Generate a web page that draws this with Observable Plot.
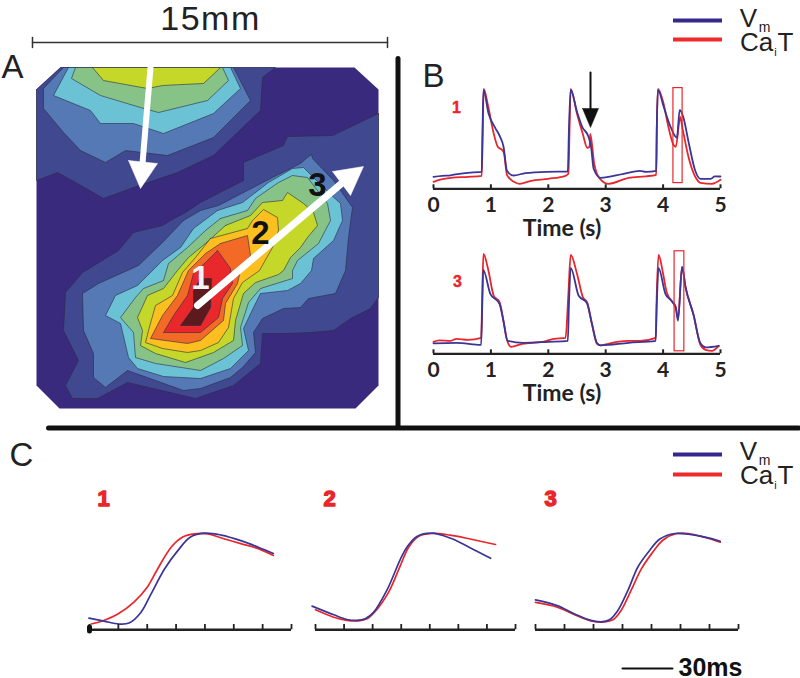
<!DOCTYPE html>
<html><head><meta charset="utf-8">
<script src="https://cdn.jsdelivr.net/npm/d3@7"></script>
<script src="https://cdn.jsdelivr.net/npm/@observablehq/plot@0.6"></script>
<style>
html,body{margin:0;background:#fff}
#fig{position:relative;width:800px;height:678px;overflow:hidden}
#fig svg{position:absolute;max-width:none;background:transparent}
.spaced text{letter-spacing:1.5px}
</style></head><body><div id="fig"></div>
<script>
// ---- Panel A: isochrone contours, map coordinates
const level0  = [[36,89],[60,67],[354,67],[378,89],[378,385],[355,408],[59,408],[36,385]];
const level1a = [[36,89],[60,67],[275,67],[262,77],[260,110],[213,155],[177,172],[133,187],[103,198],[77,183],[57,172],[36,180]];
const level2a = [[63,67],[233,67],[250,100],[213,137],[167,155],[125,150],[105,162],[80,150],[63,132],[43,108],[43,88]];
const level3a = [[68,67],[53,95],[90,110],[100,123],[133,123],[163,133],[213,113],[240,88],[230,67]];
const level4a = [[75,67],[71,78],[100,95],[140,107],[158,112],[207,100],[228,80],[222,67]];
const level5a = [[92,67],[103,80],[147,88],[162,85],[203,83],[220,67]];
const level1b = [[378,113],[332,135],[287,136],[283,145],[243,162],[243,180],[200,202],[185,212],[170,220],[162,225],[133,232],[118,250],[82,272],[65,292],[63,330],[78,360],[65,385],[72,398],[97,398],[127,382],[195,398],[233,385],[260,363],[262,333],[283,333],[310,332],[333,330],[350,318],[370,308],[378,297]];
const level2b = [[183,220],[200,210],[218,205],[247,190],[272,177],[300,163],[307,157],[311,154],[312,158],[333,180],[352,207],[348,237],[345,270],[335,293],[308,298],[300,307],[283,308],[262,318],[253,332],[255,352],[242,367],[230,377],[200,388],[183,390],[155,380],[127,370],[105,387],[93,377],[93,353],[83,330],[82,293],[98,283],[138,265],[162,242]];
const level3b = [[217,210],[242,202],[268,182],[292,168],[303,167],[328,192],[340,203],[342,220],[333,240],[313,258],[311,270],[300,283],[287,290],[260,293],[253,307],[243,328],[248,350],[230,368],[200,378],[163,376],[137,368],[128,357],[120,323],[105,315],[115,295],[137,285],[162,260],[180,247],[193,228]];
const level4b = [[220,218],[247,210],[255,198],[278,182],[292,175],[307,177],[327,203],[330,220],[318,243],[297,260],[292,270],[292,278],[260,288],[248,302],[240,327],[242,345],[223,358],[200,370],[155,363],[135,357],[133,332],[120,317],[135,297],[143,288],[163,280],[168,263],[187,247],[205,230]];
const level5b = [[225,225],[250,215],[262,202],[282,200],[287,192],[303,203],[313,212],[317,225],[307,237],[300,247],[290,257],[283,270],[278,274],[255,282],[243,293],[235,320],[233,340],[213,352],[185,362],[155,353],[140,345],[142,330],[137,317],[147,295],[163,288],[177,270],[188,257],[205,243]];
const level6b = [[210,238],[247,228],[252,220],[263,209],[277,217],[278,230],[272,247],[259,270],[242,282],[233,298],[228,327],[218,342],[200,350],[187,352],[162,348],[145,342],[148,330],[155,305],[172,295],[182,272],[195,257]];
const level7b = [[220,243],[247,235],[250,255],[240,270],[237,283],[225,303],[223,320],[200,340],[187,343],[150,338],[162,315],[177,295],[188,270],[205,253]];
const level8b = [[217,250],[230,268],[232,283],[222,298],[218,317],[200,332],[163,332],[173,315],[187,295],[193,273],[205,262]];
const level9b = [[200,278],[211,278],[210,307],[200,325],[180,325],[193,307],[193,290]];
const contourShapes = [level0,level1a,level2a,level3a,level4a,level5a,level1b,level2b,level3b,level4b,level5b,level6b,level7b,level8b,level9b];
const contourColors = ["#3a2a7e","#40488f","#5479b5","#6cc2d5","#87c286","#c5d82a","#fbbf20","#f26a26","#e8282b","#5c1a1e"];
const contourLevels = [0,1,2,3,4,5,1,2,3,4,5,6,7,8,9];

// ---- Panel B: optical traces, [time (s), normalised signal]
const b1Vm = [[0,.12],[.15,.13],[.3,.135],[.45,.15],[.6,.16],[.84,.17],[.855,.6],[.87,.99],[.96,.75],[1.075,.61],[1.16,.52],[1.22,.42],[1.28,.18],[1.395,.133],[1.6,.157],[1.98,.17],[2.34,.173],[2.36,.6],[2.39,.99],[2.5,.77],[2.59,.62],[2.7,.52],[2.745,.42],[2.79,.2],[2.91,.11],[3.31,.15],[3.6,.18],[3.7,.17],[3.88,.18],[3.89,.6],[3.91,.99],[4.01,.82],[4.13,.62],[4.24,.51],[4.29,.79],[4.35,.72],[4.45,.45],[4.56,.18],[4.65,.1],[4.83,.1],[4.9,.125],[5,.123]];
const b1Ca = [[0,.07],[.1,.09],[.3,.11],[.6,.12],[.84,.13],[.855,.5],[.875,1],[.95,.83],[1.05,.55],[1.12,.42],[1.2,.385],[1.23,.35],[1.28,.14],[1.4,.07],[1.5,.05],[1.7,.08],[2,.1],[2.3,.13],[2.35,.15],[2.37,.6],[2.39,1],[2.5,.75],[2.6,.55],[2.68,.41],[2.72,.42],[2.73,.55],[2.76,.45],[2.8,.25],[2.9,.1],[3.05,.05],[3.4,.11],[3.7,.125],[3.88,.14],[3.89,.6],[3.91,1],[4,.87],[4.1,.6],[4.18,.44],[4.22,.42],[4.3,.72],[4.33,.63],[4.45,.3],[4.58,.1],[4.65,.06],[4.85,.05],[5,.09]];
const b3Vm = [[0,.105],[.4,.11],[.83,.09],[.85,.5],[.866,.84],[.99,.6],[1.15,.5],[1.22,.32],[1.29,.13],[1.57,.11],[2,.12],[2.34,.13],[2.36,.5],[2.39,.86],[2.53,.58],[2.67,.51],[2.76,.3],[2.85,.105],[2.91,.085],[3.4,.11],[3.87,.13],[3.89,.5],[3.92,.86],[4.04,.6],[4.16,.52],[4.22,.46],[4.26,.33],[4.33,.87],[4.39,.67],[4.53,.39],[4.65,.105],[4.74,.065],[4.97,.08]];
const b3Ca = [[0,.12],[.1,.135],[.3,.13],[.4,.15],[.6,.14],[.83,.16],[.85,.6],[.87,1],[.95,.85],[1.05,.58],[1.15,.52],[1.22,.33],[1.28,.14],[1.35,.07],[1.55,.1],[1.9,.12],[2.1,.15],[2.3,.16],[2.35,.6],[2.39,.99],[2.5,.8],[2.6,.57],[2.68,.51],[2.76,.3],[2.85,.1],[2.91,.085],[3.2,.12],[3.4,.13],[3.6,.13],[3.87,.16],[3.89,.6],[3.92,.99],[4,.8],[4.06,.62],[4.16,.52],[4.22,.47],[4.26,.35],[4.33,.87],[4.39,.67],[4.53,.39],[4.65,.09],[4.74,.04],[4.85,.03],[4.97,.08]];
const b1Window = {t1:4.18,t2:4.34,v1:.057,v2:1.007};
const b3Window = {t1:4.2,t2:4.37,v1:.025,v2:1.025};
const bTicks = [0,1,2,3,4,5];

// ---- Panel C: upstroke detail, [tick index, normalised signal]
const c1Vm = [[-.02,.12],[.5,.09],[1.02,.06],[1.37,.07],[1.78,.18],[2.13,.37],[2.6,.63],[3.06,.82],[3.5,.96],[3.99,1],[4.57,.98],[5.27,.92],[5.85,.855],[6.37,.79]];
const c1Ca = [[.06,.06],[.5,.097],[.97,.16],[1.55,.29],[2,.44],[2.36,.63],[2.83,.855],[3.23,.96],[3.64,.993],[4.1,.993],[4.57,.95],[5.27,.89],[5.85,.84],[6.37,.77]];
const c2Vm = [[-.12,.245],[.64,.155],[1.1,.107],[1.45,.097],[1.74,.114],[2.03,.18],[2.5,.41],[2.97,.73],[3.2,.855],[3.55,.966],[4.07,1],[4.71,.95],[5.41,.85],[6.13,.74]];
const c2Ca = [[0,.207],[.64,.13],[1.1,.097],[1.51,.093],[1.8,.114],[2.09,.19],[2.56,.39],[2.97,.665],[3.26,.855],[3.6,.966],[4.07,.997],[4.71,.98],[5.41,.94],[6.3,.883]];
const c3Vm = [[0,.31],[.75,.25],[1.33,.166],[1.91,.097],[2.26,.083],[2.55,.103],[2.84,.2],[3.19,.41],[3.53,.65],[3.88,.8],[4.29,.94],[4.81,.997],[5.27,.99],[5.85,.96],[6.37,.917]];
const c3Ca = [[0,.283],[.75,.234],[1.33,.159],[1.91,.093],[2.32,.08],[2.67,.103],[2.95,.2],[3.3,.41],[3.65,.63],[4,.786],[4.4,.93],[4.87,.997],[5.27,.997],[5.85,.955],[6.37,.907]];
const cTicks = [0,1,2,3,4,5,6,7];

// ---- Annotations
const arrowDownShaft = [[150,67],[142,163]];
const arrowDownHead  = [[128,160],[157,163],[140,188]];
const arrowUpShaft   = [[197,305],[341,183]];
const arrowUpHead    = [[332,171],[363,166],[350,195]];
const blackShaft = [[590,72],[590,110]];
const blackHead  = [[582,108],[598,108],[590,127]];
const separators = [[[397.5,58],[397.5,427]],[[48,427.5],[798,427.5]]];
const scaleBar = [[32,42],[387,42]];
const scaleCaps = [[[32,37],[32,47]],[[387,37],[387,47]]];
const timeBar = [[622,668],[672,668]];
const startMark = [[89,626.5],[89,630.5]];
const legendRows = [{y:20,c:"vm"},{y:39,c:"ca"},{y:454,c:"vm"},{y:474,c:"ca"}];
const panelLetters = [["A",12,67],["B",433,76],["C",21,455]];
const mapNumbers = [["1",200,278,"#f4f4f4"],["2",260,233,"#111"],["3",317,185,"#111"]];
const redNumbers = [["1",456,107,16],["3",457,281,16],["1",103,498,22],["2",329,498,22],["3",550,498,22]];
const BLUE="#3a3596", RED="#e8262b", SANS="Liberation Sans", INK="#222";

const fig=document.getElementById("fig");
function place(svg,left,top){svg.style.left=left+"px";svg.style.top=top+"px";fig.appendChild(svg);}
const pairs=a=>a.map(([x,y])=>({x,y}));
const closed=a=>pairs([...a,a[0]]);

// Panels B
function panelB(vm,ca,win,top){
  const svg=Plot.plot({width:390,height:180,marginLeft:23,marginRight:80,marginTop:28.3,marginBottom:51.7,
    style:{background:"transparent",overflow:"visible"},
    x:{domain:[0,5]},y:{domain:[0,1],axis:null},
    marks:[
      Plot.line(pairs(ca),{x:"x",y:"y",stroke:RED,strokeWidth:1.8,curve:"monotone-x"}),
      Plot.line(pairs(vm),{x:"x",y:"y",stroke:BLUE,strokeWidth:1.8,curve:"monotone-x"}),
      Plot.rect([win],{x1:"t1",x2:"t2",y1:"v1",y2:"v2",stroke:RED,strokeWidth:1.2,fill:"none"}),
      Plot.ruleY([0],{stroke:INK,strokeWidth:2.2}),
      Plot.ruleX(bTicks,{y1:0,y2:.04,stroke:INK,strokeWidth:2}),
      Plot.axisX({ticks:bTicks,tickSize:0,tickPadding:8,label:null,fontSize:21,fontWeight:"bold",fontFamily:"Lato",fill:INK,tickFormat:"d"}),
      Plot.text(["Time (s)"],{frameAnchor:"bottom",lineAnchor:"middle",dy:40,dx:-15,fontSize:23,fontWeight:"bold",fontFamily:"Lato",fill:INK})
    ]});
  place(svg,410,top);
}
panelB(b1Vm,b1Ca,b1Window,60);
panelB(b3Vm,b3Ca,b3Window,224.5);

// Panels C
function panelC(vm,ca,left,w){
  const svg=Plot.plot({width:w+40,height:140,marginLeft:20,marginRight:20,marginTop:32.7,marginBottom:10.7,
    style:{background:"transparent",overflow:"visible"},
    x:{domain:[0,7],axis:null},y:{domain:[0,1],axis:null},
    marks:[
      Plot.line(pairs(ca),{x:"x",y:"y",stroke:RED,strokeWidth:1.7,curve:"catmull-rom"}),
      Plot.line(pairs(vm),{x:"x",y:"y",stroke:BLUE,strokeWidth:1.7,curve:"catmull-rom"}),
      Plot.ruleY([0],{stroke:INK,strokeWidth:2.4}),
      Plot.ruleX(cTicks,{y1:0,y2:.055,stroke:INK,strokeWidth:1.8})
    ]});
  place(svg,left-20,500);
}
panelC(c1Vm,c1Ca,89,202);
panelC(c2Vm,c2Ca,315,200);
panelC(c3Vm,c3Ca,535,203);

// Map and all annotations share a figure-sized frame
const fillLine=(a,f,s,w)=>Plot.line(closed(a),{x:"x",y:"y",fill:f,stroke:s,strokeWidth:w});
const poly=a=>Plot.line(closed(a),{x:"x",y:"y",fill:"#fff",stroke:"#fff",strokeWidth:.5});
const txt=(t,x,y,size,o={})=>Plot.text([t],{x:[x],y:[y],text:d=>d,fontSize:size,fontFamily:SANS,fill:"#222",textAnchor:"middle",lineAnchor:"middle",...o});
const legendLine=r=>Plot.ruleY([r.y],{x1:673,x2:722,stroke:r.c==="vm"?"#35278c":"#ee2a2a",strokeWidth:4});
const legendText=(dy)=>[
  txt("V",748,18+dy,26),txt("m",764,27+dy,14),
  txt("Ca",756,42+dy,26),txt("i",775,52+dy,11),txt("T",785,42+dy,26)];

const main=Plot.plot({width:800,height:678,margin:0,
  style:{background:"transparent"},
  x:{domain:[0,800],axis:null},y:{domain:[678,0],axis:null},
  marks:[
    ...contourShapes.map((s,i)=>fillLine(s,contourColors[contourLevels[i]],i===0?"none":"#2a2a44",i===0?0:.6)),
    Plot.line(pairs(arrowDownShaft),{x:"x",y:"y",stroke:"#fff",strokeWidth:6}),
    poly(arrowDownHead),
    Plot.line(pairs(arrowUpShaft),{x:"x",y:"y",stroke:"#fff",strokeWidth:7}),
    poly(arrowUpHead),
    ...mapNumbers.map(([t,x,y,c])=>txt(t,x,y,33,{fill:c,fontWeight:"bold"})),
    ...separators.map(s=>Plot.line(pairs(s),{x:"x",y:"y",stroke:"#111",strokeWidth:5})),
    Plot.line(pairs(scaleBar),{x:"x",y:"y",stroke:"#333",strokeWidth:1.5}),
    ...scaleCaps.map(s=>Plot.line(pairs(s),{x:"x",y:"y",stroke:"#333",strokeWidth:1.5})),
    txt("15mm",210,19,34,{className:"spaced"}),
    ...panelLetters.map(([t,x,y])=>txt(t,x,y,33)),
    ...legendRows.map(legendLine),
    ...legendText(0),...legendText(433),
    Plot.line(pairs(blackShaft),{x:"x",y:"y",stroke:"#111",strokeWidth:2}),
    Plot.line(closed(blackHead),{x:"x",y:"y",fill:"#111",stroke:"#111",strokeWidth:.5}),
    ...redNumbers.map(([t,x,y,s])=>txt(t,x,y,s,{fill:RED,fontWeight:"bold",stroke:RED,strokeWidth:s>20?1.4:.4})),
    Plot.line(pairs(startMark),{x:"x",y:"y",stroke:"#111",strokeWidth:5,strokeLinecap:"round"}),
    Plot.line(pairs(timeBar),{x:"x",y:"y",stroke:"#111",strokeWidth:2}),
    txt("30ms",678,667,25,{fontWeight:"bold",textAnchor:"start",fill:"#111"})
  ]});
place(main,0,0);
</script></body></html>
